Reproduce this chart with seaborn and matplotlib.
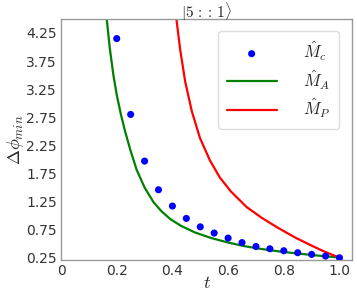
import numpy as np
import pandas as pd
import seaborn as sns
import matplotlib
matplotlib.use("Agg")
import matplotlib.pyplot as plt

# measured points, M_c
t_c = [0.20, 0.25, 0.30, 0.35, 0.40, 0.45, 0.50, 0.55, 0.60, 0.65,
       0.70, 0.75, 0.80, 0.85, 0.90, 0.95, 1.00]
phi_c = [4.15, 2.80, 1.97, 1.46, 1.17, 0.95, 0.80, 0.69, 0.60, 0.52,
         0.45, 0.41, 0.375, 0.34, 0.31, 0.28, 0.25]

# curve M_A
t_a = [0.163, 0.175, 0.188, 0.200, 0.215, 0.230, 0.250, 0.272, 0.300, 0.332,
       0.360, 0.392, 0.430, 0.481, 0.540, 0.601, 0.660, 0.721, 0.780, 0.841,
       0.900, 0.950, 1.000]
phi_a = [4.55, 3.98, 3.50, 3.15, 2.80, 2.50, 2.15, 1.81, 1.50, 1.24,
         1.08, 0.94, 0.82, 0.70, 0.60, 0.52, 0.455, 0.405, 0.365, 0.33,
         0.30, 0.275, 0.255]

# curve M_P
t_p = [0.413, 0.428, 0.446, 0.470, 0.499, 0.535, 0.570, 0.610, 0.667, 0.721,
       0.780, 0.841, 0.890, 0.937, 0.970, 1.000]
phi_p = [4.55, 3.95, 3.38, 2.85, 2.38, 1.98, 1.68, 1.43, 1.15, 0.96,
         0.78, 0.61, 0.49, 0.38, 0.31, 0.255]

sns.set_style("white")
plt.rcParams["mathtext.fontset"] = "cm"
plt.rcParams["font.family"] = ["DejaVu Sans"]

fig = plt.figure(figsize=(3.57, 2.91), dpi=100)
ax = fig.add_axes([0.171, 0.1065, 0.815, 0.8285])

sns.scatterplot(x=t_c, y=phi_c, ax=ax, color="blue", s=26, edgecolor="none",
                label=r"$\hat{M}_c$", zorder=3)
sns.lineplot(x=t_a, y=phi_a, ax=ax, color="green", lw=1.6, label=r"$\hat{M}_A$")
sns.lineplot(x=t_p, y=phi_p, ax=ax, color="red", lw=1.6, label=r"$\hat{M}_P$")

ax.set_xlim(0, 1.045)
ax.set_ylim(0.21, 4.5)
ax.set_xticks([0, 0.2, 0.4, 0.6, 0.8, 1.0])
ax.set_xticklabels(["0", "0.2", "0.4", "0.6", "0.8", "1.0"])
ax.set_yticks(np.arange(0.25, 4.26, 0.5))
ax.tick_params(labelsize=10, colors="#333333", length=2, width=0.6, pad=1)
for s in ax.spines.values():
    s.set_color("#999999")
    s.set_linewidth(1.0)

ax.set_xlabel(r"$t$", fontsize=13, labelpad=-3)
ax.set_ylabel(r"$\Delta\phi_{min}$", fontsize=13, labelpad=0)
ax.set_title(r"$|5\,::\,1\rangle$", fontsize=11, pad=1)

ax.legend(loc="upper right", fontsize=12, handlelength=3, borderpad=0.5,
          labelspacing=0.3, handletextpad=1.6, framealpha=1,
          edgecolor="#dddddd", bbox_to_anchor=(0.985, 0.985))

fig.savefig("out.png", dpi=100)
